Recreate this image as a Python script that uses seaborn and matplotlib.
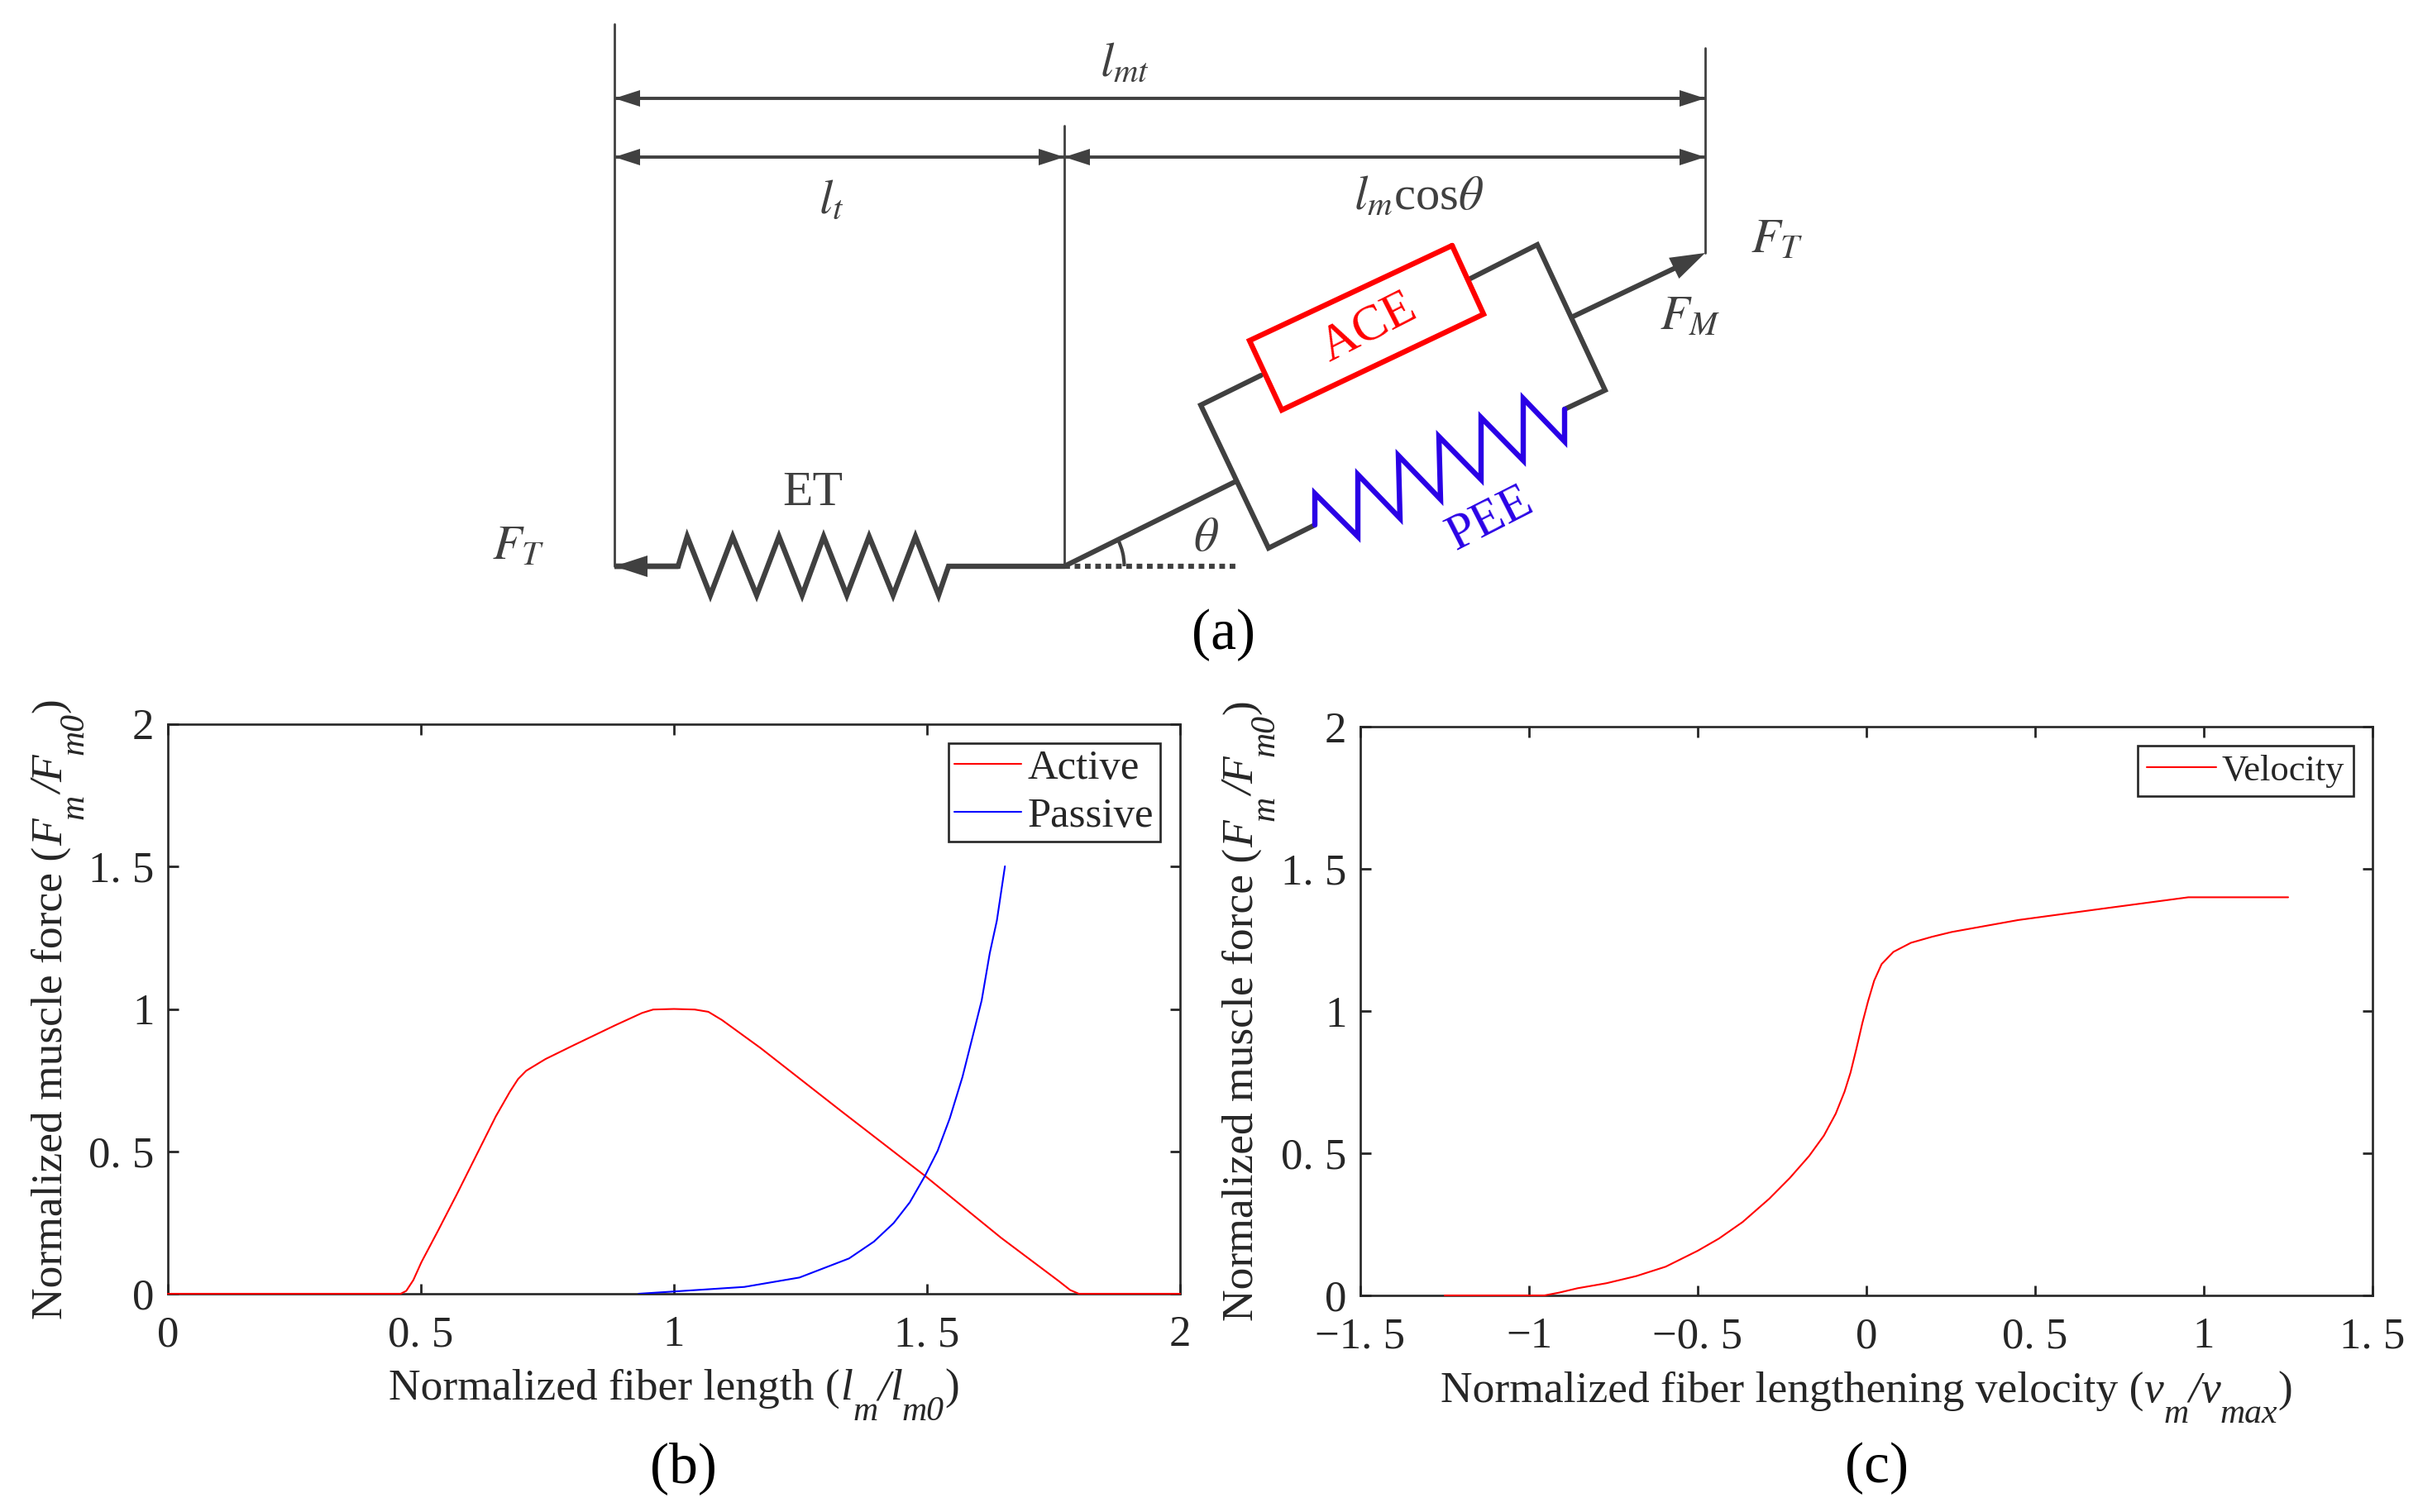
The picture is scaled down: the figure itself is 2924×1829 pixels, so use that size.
import numpy as np
import seaborn as sns
import matplotlib.pyplot as plt
from matplotlib.font_manager import FontProperties
from matplotlib.patches import Arc

# curve values (b) and (c)
active_x = [0, 0.46, 0.471, 0.485, 0.501, 0.534, 0.572, 0.61, 0.648, 0.676, 0.692, 0.708, 0.746, 0.801, 0.883, 0.937, 0.959, 1.0, 1.041, 1.068, 1.095, 1.171, 1.33, 1.496, 1.646, 1.76, 1.783, 1.80, 2]
active_y = [0, 0, 0.01, 0.048, 0.111, 0.222, 0.353, 0.488, 0.623, 0.71, 0.754, 0.783, 0.824, 0.872, 0.942, 0.986, 0.998, 1.0, 0.998, 0.99, 0.961, 0.863, 0.642, 0.414, 0.197, 0.045, 0.013, 0, 0]
passive_x = [0.93, 1.0, 1.07, 1.139, 1.248, 1.346, 1.395, 1.434, 1.466, 1.496, 1.521, 1.545, 1.570, 1.592, 1.608, 1.624, 1.638, 1.654]
passive_y = [0, 0.008, 0.016, 0.024, 0.057, 0.124, 0.183, 0.248, 0.321, 0.414, 0.502, 0.616, 0.761, 0.916, 1.03, 1.196, 1.31, 1.501]
velocity_x = [-1.25, -0.954, -0.91, -0.857, -0.77, -0.682, -0.595, -0.5, -0.437, -0.367, -0.288, -0.227, -0.17, -0.126, -0.091, -0.065, -0.047, -0.03, -0.012, 0.005, 0.023, 0.045, 0.08, 0.132, 0.194, 0.253, 0.45, 0.7, 0.954, 1.25]
velocity_y = [0, 0, 0.01, 0.025, 0.043, 0.068, 0.101, 0.157, 0.2, 0.258, 0.34, 0.413, 0.49, 0.562, 0.639, 0.716, 0.784, 0.866, 0.958, 1.035, 1.107, 1.165, 1.208, 1.24, 1.261, 1.278, 1.32, 1.36, 1.4, 1.4]

length_ticks = [0, 0.5, 1, 1.5, 2]
length_labels = ['0', '0. 5', '1', '1. 5', '2']
velocity_ticks = [-1.5, -1, -0.5, 0, 0.5, 1, 1.5]
velocity_labels = ['\u22121. 5', '\u22121', '\u22120. 5', '0', '0. 5', '1', '1. 5']
force_ticks = [0, 0.5, 1, 1.5, 2]
force_labels = ['0', '0. 5', '1', '1. 5', '2']

# axis titles: (text, italic, subscript)
length_title = [('Normalized fiber length (', 0, 0), ('l', 1, 0), ('m', 1, 1), ('/', 1, 0), ('l', 1, 0), ('m0', 1, 1), (')', 0, 0)]
velocity_title = [('Normalized fiber lengthening velocity (', 0, 0), ('v', 1, 0), ('m', 1, 1), ('/', 1, 0), ('v', 1, 0), ('max', 1, 1), (')', 0, 0)]
force_title = [('Normalized muscle force (', 0, 0), ('F', 1, 0), ('m', 1, 1), ('/', 1, 0), ('F', 1, 0), ('m0', 1, 1), (')', 0, 0)]

# schematic (a) outlines, in pixels of the 2924x1829 picture
et_spring_x = [820, 743, 820, 831, 859, 886, 915, 942, 970, 996, 1024, 1051, 1080, 1107, 1135, 1147, 1287]
et_spring_y = [685, 685, 685, 649, 720, 649, 720, 649, 720, 649, 720, 649, 720, 649, 720, 685, 685]
frame_x = [1778, 1859, 1941, 1892]
frame_y = [337, 296, 472, 495]
frame2_x = [1525, 1452, 1534, 1590]
frame2_y = [454, 490, 663, 635]
ace_x = [1756, 1794, 1550, 1511, 1756]
ace_y = [297, 380, 496, 412, 297]
pee_x = [1590, 1590, 1642, 1642, 1693, 1691, 1742, 1740, 1791, 1791, 1842, 1842, 1892, 1892]
pee_y = [635, 597, 649, 574, 627, 551, 604, 528, 580, 505, 557, 482, 534, 495]

W, H = 2924, 1829
DARK = '#404040'
INK = '#262626'
LABEL_SIZE = 38.5

sns.set_theme(style='ticks')
plt.rcParams['font.family'] = ['Liberation Serif', 'DejaVu Serif']
plt.rcParams['mathtext.fontset'] = 'stix'

fig = plt.figure(figsize=(W / 100, H / 100), dpi=100)
renderer = fig.canvas.get_renderer()


def px_axes(left, right, top, bottom):
    return fig.add_axes([left / W, 1 - bottom / H, (right - left) / W, (bottom - top) / H])


def head(ax, tip, angle, length=31, half=10):
    # filled arrow head, angle in degrees on the picture
    a = np.radians(angle)
    d = np.array([np.cos(a), np.sin(a)])
    n = np.array([-d[1], d[0]])
    t = np.array(tip, dtype=float)
    pts = np.array([t, t - length * d + half * n, t - length * d - half * n])
    ax.fill(pts[:, 0], pts[:, 1], color=DARK, lw=0, zorder=4)


def part_font(italic, sub):
    return FontProperties(family='Liberation Serif', style='italic' if italic else 'normal',
                          size=LABEL_SIZE * (0.78 if sub else 1))


def axis_title(ax, cx, cy, parts, rotation=0):
    # matlab style title with deeply dropped subscripts, written piece by piece
    widths = [renderer.get_text_width_height_descent(s, part_font(i, b), False)[0] * 1.0 for s, i, b in parts]
    pos = -sum(widths) / 2
    for (s, i, b), w in zip(parts, widths):
        if rotation == 0:
            x, y = cx + pos, cy + (25 if b else 0)
        else:
            x, y = cx + (25 if b else 0), cy - pos
        ax.text(x, y, s, fontproperties=part_font(i, b), color=INK, rotation=rotation, rotation_mode='anchor', ha='left', va='baseline')
        pos += w


# full-figure layer for the schematic and the panel captions
sk = fig.add_axes([0, 0, 1, 1])
sk.set_xlim(0, W)
sk.set_ylim(H, 0)
sk.axis('off')

for x, y0, y1 in [(743, 29, 685), (2062, 58, 306), (1287, 152, 685)]:
    sk.plot([x, x], [y0, y1], color=DARK, lw=2)
for x0, x1, y in [(743, 2062, 119), (743, 1287, 190), (1287, 2062, 190)]:
    sk.plot([x0, x1], [y, y], color=DARK, lw=2.8, solid_capstyle='butt')
    head(sk, (x0, y), 180)
    head(sk, (x1, y), 0)

sk.plot(et_spring_x, et_spring_y, color=DARK, lw=4.6, solid_joinstyle='miter')
head(sk, (743, 685), 180, length=40, half=13)
sk.plot(frame_x, frame_y, color=DARK, lw=4.4, solid_joinstyle='miter')
sk.plot(frame2_x, frame2_y, color=DARK, lw=4.4, solid_joinstyle='miter')
sk.plot([1287, 1495], [685, 582], color=DARK, lw=4.4)
sk.plot([1902, 2045], [383, 315], color=DARK, lw=4.4)
head(sk, (2062, 306), -26, length=42, half=14)
sk.plot(ace_x, ace_y, color='#ff0000', lw=4.6, solid_joinstyle='miter')
sk.plot(pee_x, pee_y, color='#2a00e6', lw=4.6, solid_joinstyle='miter')
sk.plot([1287, 1498], [685, 685], color=DARK, lw=4.5, ls=(0, (1.1, 0.9)))
sk.add_patch(Arc((1287, 685), 145, 145, theta1=-27, theta2=0, color=DARK, lw=3))

dk = dict(color=DARK, ha='center', va='center', fontsize=42)
sk.text(1360, 78, r'$l_{mt}$', **dk)
sk.text(1005, 244, r'$l_{t}$', **dk)
sk.text(1715, 239, r'$l_{m}$cos$\theta$', **dk)
sk.text(2149, 291, r'$F_{T}$', **dk)
sk.text(2044, 384, r'$F_{M}$', **dk)
sk.text(627, 662, r'$F_{T}$', **dk)
sk.text(1458, 652, r'$\theta$', **dk)
sk.text(983, 597, 'ET', color=DARK, ha='center', va='center', fontsize=43)
sk.text(1655, 397, 'ACE', color='#ff0000', ha='center', va='center', fontsize=44, rotation=27, rotation_mode='anchor')
sk.text(1802, 628, 'PEE', color='#2a00e6', ha='center', va='center', fontsize=44, rotation=27, rotation_mode='anchor')
for label, x, y in [('(a)', 1480, 768), ('(b)', 826, 1776), ('(c)', 2270, 1776)]:
    sk.text(x, y, label, color='black', ha='center', va='center', fontsize=50)

axis_title(sk, 815, 1693, length_title)
axis_title(sk, 2257, 1696, velocity_title)
axis_title(sk, 75, 1220, force_title, rotation=90)
axis_title(sk, 1515, 1222, force_title, rotation=90)

# panel (b)
ax_b = px_axes(203, 1427, 876, 1565)
sns.lineplot(x=active_x, y=active_y, color='#ff0000', lw=1.5, label='Active', estimator=None, ax=ax_b, clip_on=False, zorder=3)
sns.lineplot(x=passive_x, y=passive_y, color='#0000ff', lw=1.5, label='Passive', estimator=None, ax=ax_b, zorder=3)
ax_b.set_xlim(0, 2)
ax_b.set_xticks(length_ticks, length_labels)

# panel (c)
ax_c = px_axes(1645, 2869, 879, 1567)
sns.lineplot(x=velocity_x, y=velocity_y, color='#ff0000', lw=1.5, label='Velocity', estimator=None, ax=ax_c, clip_on=False, zorder=3)
ax_c.set_xlim(-1.5, 1.5)
ax_c.set_xticks(velocity_ticks, velocity_labels)

for ax in [ax_b, ax_c]:
    ax.set_ylim(0, 2)
    ax.set_yticks(force_ticks, force_labels)
    ax.set_xlabel('')
    ax.set_ylabel('')
    ax.tick_params(direction='in', top=True, right=True, length=9, width=2, labelsize=38, color=INK, labelcolor=INK, pad=12)
    ax.tick_params(axis='x', pad=19)
    for s in ax.spines.values():
        s.set_visible(True)
        s.set_linewidth(1.9)
        s.set_color(INK)

legend_opts = dict(loc='upper right', bbox_transform=fig.transFigure, frameon=True, fancybox=False, framealpha=1, edgecolor=INK, borderaxespad=0)
leg_b = ax_b.legend(bbox_to_anchor=(1403 / W, 1 - 899 / H), fontsize=36.5, borderpad=0.15, labelspacing=0.22, handlelength=1.6, handletextpad=0.15, **legend_opts)
leg_c = ax_c.legend(bbox_to_anchor=(2846 / W, 1 - 902 / H), fontsize=32, borderpad=0.24, handlelength=1.9, handletextpad=0.15, **legend_opts)
leg_b.get_frame().set_linewidth(1.9)
leg_c.get_frame().set_linewidth(1.9)

fig.savefig('out.png', dpi=100)
